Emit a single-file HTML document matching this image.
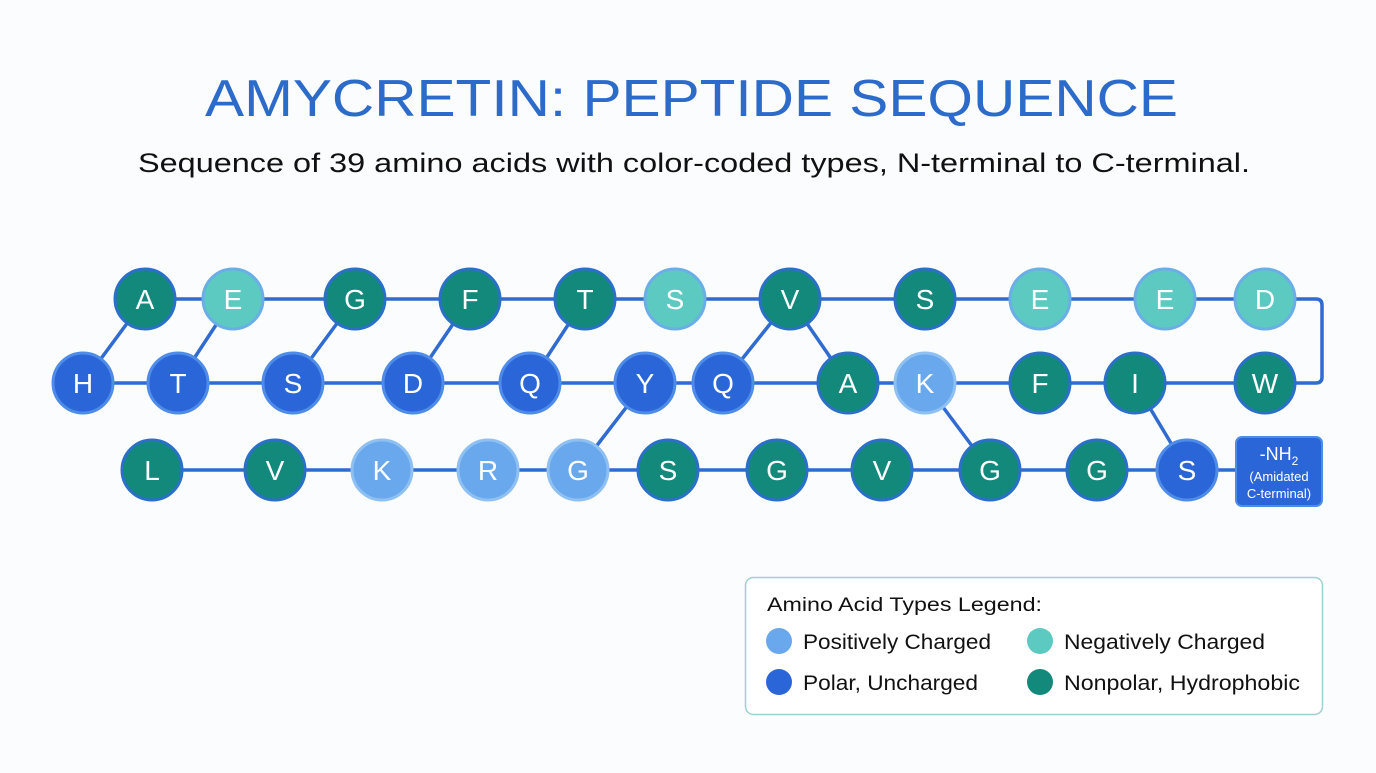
<!DOCTYPE html>
<html><head><meta charset="utf-8"><style>
body{margin:0;background:#fbfcfd;width:1376px;height:768px;overflow:hidden;font-family:"Liberation Sans",sans-serif}
</style></head><body>
<svg width="1376" height="768" xmlns="http://www.w3.org/2000/svg" font-family="Liberation Sans, sans-serif">
<text x="205" y="116" font-size="52" fill="#2d6bcb" textLength="973" lengthAdjust="spacingAndGlyphs">AMYCRETIN: PEPTIDE SEQUENCE</text>
<text x="138" y="172" font-size="27" fill="#111" textLength="1112" lengthAdjust="spacingAndGlyphs">Sequence of 39 amino acids with color-coded types, N-terminal to C-terminal.</text>
<g stroke="#2f6bd0" stroke-width="3.5" fill="none" stroke-linecap="round">
<line x1="145" y1="299" x2="1265" y2="299"/>
<path d="M1265 299 H1316 Q1322 299 1322 305 V377 Q1322 383 1316 383 H1265"/>
<line x1="83" y1="383" x2="1265" y2="383"/>
<line x1="152" y1="470" x2="1235" y2="470"/>
<line x1="83" y1="383" x2="145" y2="299"/>
<line x1="178" y1="383" x2="233" y2="299"/>
<line x1="293" y1="383" x2="355" y2="299"/>
<line x1="413" y1="383" x2="470" y2="299"/>
<line x1="530" y1="383" x2="585" y2="299"/>
<line x1="723" y1="383" x2="790" y2="299"/>
<line x1="790" y1="299" x2="848" y2="383"/>
<line x1="925" y1="383" x2="990" y2="470"/>
<line x1="1135" y1="383" x2="1187" y2="470"/>
<line x1="645" y1="383" x2="578" y2="470"/>
</g>
<g font-size="28" text-anchor="middle" fill="#fff" stroke-width="3">
<g><circle cx="145" cy="299" r="30" fill="#13897b" stroke="#2a70c8"/><text x="145" y="309" fill="#fff">A</text></g>
<g><circle cx="233" cy="299" r="30" fill="#5ccac1" stroke="#6aaee8"/><text x="233" y="309" fill="#fff">E</text></g>
<g><circle cx="355" cy="299" r="30" fill="#13897b" stroke="#2a70c8"/><text x="355" y="309" fill="#fff">G</text></g>
<g><circle cx="470" cy="299" r="30" fill="#13897b" stroke="#2a70c8"/><text x="470" y="309" fill="#fff">F</text></g>
<g><circle cx="585" cy="299" r="30" fill="#13897b" stroke="#2a70c8"/><text x="585" y="309" fill="#fff">T</text></g>
<g><circle cx="675" cy="299" r="30" fill="#5ccac1" stroke="#6aaee8"/><text x="675" y="309" fill="#fff">S</text></g>
<g><circle cx="790" cy="299" r="30" fill="#13897b" stroke="#2a70c8"/><text x="790" y="309" fill="#fff">V</text></g>
<g><circle cx="925" cy="299" r="30" fill="#13897b" stroke="#2a70c8"/><text x="925" y="309" fill="#fff">S</text></g>
<g><circle cx="1040" cy="299" r="30" fill="#5ccac1" stroke="#6aaee8"/><text x="1040" y="309" fill="#fff">E</text></g>
<g><circle cx="1165" cy="299" r="30" fill="#5ccac1" stroke="#6aaee8"/><text x="1165" y="309" fill="#fff">E</text></g>
<g><circle cx="1265" cy="299" r="30" fill="#5ccac1" stroke="#6aaee8"/><text x="1265" y="309" fill="#fff">D</text></g>
<g><circle cx="83" cy="383" r="30" fill="#2b66d9" stroke="#4f8ce8"/><text x="83" y="393" fill="#fff">H</text></g>
<g><circle cx="178" cy="383" r="30" fill="#2b66d9" stroke="#4f8ce8"/><text x="178" y="393" fill="#fff">T</text></g>
<g><circle cx="293" cy="383" r="30" fill="#2b66d9" stroke="#4f8ce8"/><text x="293" y="393" fill="#fff">S</text></g>
<g><circle cx="413" cy="383" r="30" fill="#2b66d9" stroke="#4f8ce8"/><text x="413" y="393" fill="#fff">D</text></g>
<g><circle cx="530" cy="383" r="30" fill="#2b66d9" stroke="#4f8ce8"/><text x="530" y="393" fill="#fff">Q</text></g>
<g><circle cx="645" cy="383" r="30" fill="#2b66d9" stroke="#4f8ce8"/><text x="645" y="393" fill="#fff">Y</text></g>
<g><circle cx="723" cy="383" r="30" fill="#2b66d9" stroke="#4f8ce8"/><text x="723" y="393" fill="#fff">Q</text></g>
<g><circle cx="848" cy="383" r="30" fill="#13897b" stroke="#2a70c8"/><text x="848" y="393" fill="#fff">A</text></g>
<g><circle cx="925" cy="383" r="30" fill="#6aa8ee" stroke="#8fc0f2"/><text x="925" y="393" fill="#fff">K</text></g>
<g><circle cx="1040" cy="383" r="30" fill="#13897b" stroke="#2a70c8"/><text x="1040" y="393" fill="#fff">F</text></g>
<g><circle cx="1135" cy="383" r="30" fill="#13897b" stroke="#2a70c8"/><text x="1135" y="393" fill="#fff">I</text></g>
<g><circle cx="1265" cy="383" r="30" fill="#13897b" stroke="#2a70c8"/><text x="1265" y="393" fill="#fff">W</text></g>
<g><circle cx="152" cy="470" r="30" fill="#13897b" stroke="#2a70c8"/><text x="152" y="480" fill="#fff">L</text></g>
<g><circle cx="275" cy="470" r="30" fill="#13897b" stroke="#2a70c8"/><text x="275" y="480" fill="#fff">V</text></g>
<g><circle cx="382" cy="470" r="30" fill="#6aa8ee" stroke="#8fc0f2"/><text x="382" y="480" fill="#fff">K</text></g>
<g><circle cx="488" cy="470" r="30" fill="#6aa8ee" stroke="#8fc0f2"/><text x="488" y="480" fill="#fff">R</text></g>
<g><circle cx="578" cy="470" r="30" fill="#6aa8ee" stroke="#8fc0f2"/><text x="578" y="480" fill="#fff">G</text></g>
<g><circle cx="668" cy="470" r="30" fill="#13897b" stroke="#2a70c8"/><text x="668" y="480" fill="#fff">S</text></g>
<g><circle cx="777" cy="470" r="30" fill="#13897b" stroke="#2a70c8"/><text x="777" y="480" fill="#fff">G</text></g>
<g><circle cx="882" cy="470" r="30" fill="#13897b" stroke="#2a70c8"/><text x="882" y="480" fill="#fff">V</text></g>
<g><circle cx="990" cy="470" r="30" fill="#13897b" stroke="#2a70c8"/><text x="990" y="480" fill="#fff">G</text></g>
<g><circle cx="1097" cy="470" r="30" fill="#13897b" stroke="#2a70c8"/><text x="1097" y="480" fill="#fff">G</text></g>
<g><circle cx="1187" cy="470" r="30" fill="#2b66d9" stroke="#4f8ce8"/><text x="1187" y="480" fill="#fff">S</text></g>
</g>
<rect x="1236" y="437" width="86" height="69" rx="6" fill="#2b66d9" stroke="#4f8ce8" stroke-width="2"/>
<text x="1279" y="460" text-anchor="middle" font-size="18" fill="#fff">-NH<tspan font-size="12" dy="5">2</tspan></text>
<text x="1279" y="481" text-anchor="middle" font-size="13" fill="#fff">(Amidated</text>
<text x="1279" y="498" text-anchor="middle" font-size="13" fill="#fff">C-terminal)</text>
<rect x="745.5" y="577.5" width="577" height="137" rx="8" fill="#fff" stroke="#9fcfd6" stroke-width="1.5"/>
<text x="767" y="611" font-size="19" fill="#111" textLength="275" lengthAdjust="spacingAndGlyphs">Amino Acid Types Legend:</text>
<circle cx="779" cy="641" r="13" fill="#6aa8ee"/><text x="803" y="649" font-size="21" fill="#111" textLength="188" lengthAdjust="spacingAndGlyphs">Positively Charged</text>
<circle cx="1040" cy="641" r="13" fill="#5ccac1"/><text x="1064" y="649" font-size="21" fill="#111" textLength="201" lengthAdjust="spacingAndGlyphs">Negatively Charged</text>
<circle cx="779" cy="682" r="13" fill="#2b66d9"/><text x="803" y="690" font-size="21" fill="#111" textLength="175" lengthAdjust="spacingAndGlyphs">Polar, Uncharged</text>
<circle cx="1040" cy="682" r="13" fill="#13897b"/><text x="1064" y="690" font-size="21" fill="#111" textLength="236" lengthAdjust="spacingAndGlyphs">Nonpolar, Hydrophobic</text>
</svg>
</body></html>
